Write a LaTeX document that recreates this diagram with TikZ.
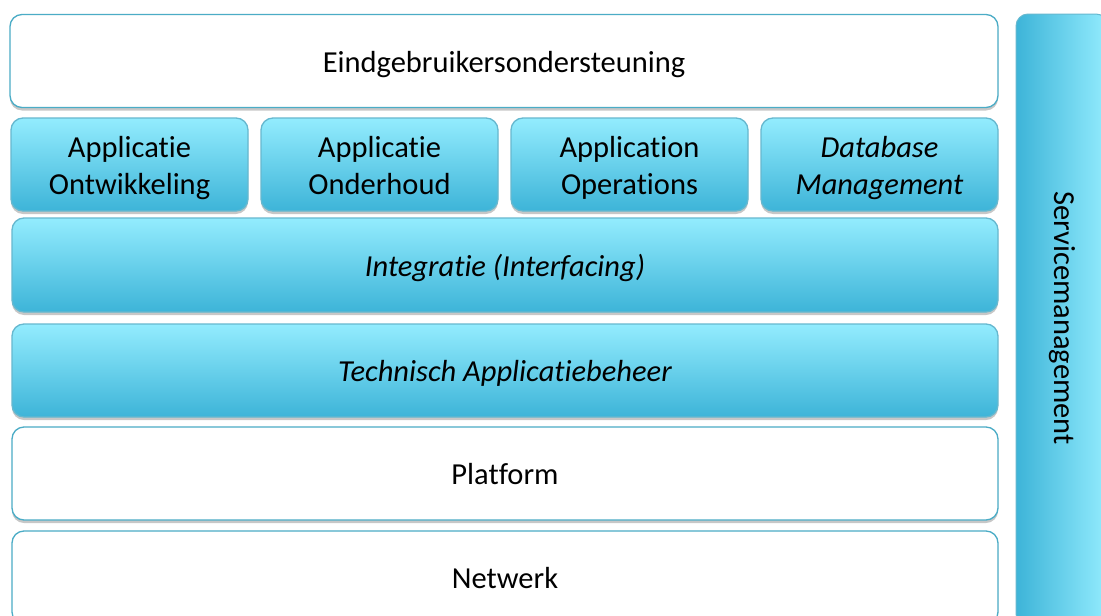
\documentclass[tikz,border=0pt]{standalone}
\usepackage{fontspec}
\setmainfont{Carlito}[Ligatures=NoCommon]
\usetikzlibrary{shadows}
\definecolor{edgeblue}{HTML}{4BACC6}
\definecolor{lightcyan}{HTML}{93ECFE}
\definecolor{darkcyan}{HTML}{3DB4D8}
\newcommand\tstrut{\rule[-7pt]{0pt}{36.5pt}}
\tikzset{
  basebox/.style={rounded corners=12pt, line width=1.3pt, align=center,
    font=\fontsize{30.5}{37}\selectfont, inner sep=0pt,
    drop shadow={shadow xshift=0pt, shadow yshift=-3pt, opacity=0.22, fill=black}},
  whitebox/.style={basebox, draw=edgeblue, fill=white},
  bluebox/.style={basebox, draw=edgeblue!85!white, top color=lightcyan, bottom color=darkcyan},
  sidebar/.style={rounded corners=12pt, draw=edgeblue!85!white, line width=1pt,
    left color=darkcyan, right color=lightcyan},
}
\begin{document}
\begin{tikzpicture}[x=1pt,y=-1pt]
\useasboundingbox (0,0) rectangle (1101,616);
\clip (0,0) rectangle (1101,616);
\fill[white] (0,0) rectangle (1101,616);

\node[whitebox, minimum width=988pt, minimum height=93pt] (eind) at (504,61) {\tstrut Eindgebruikersondersteuning};

\node[bluebox, minimum width=237pt, minimum height=93pt] (ontw) at (129.5,164.5) {\tstrut Applicatie\\\tstrut Ontwikkeling};
\node[bluebox, minimum width=237pt, minimum height=93pt] (onderh) at (379.5,164.5) {\tstrut Applicatie\\\tstrut Onderhoud};
\node[bluebox, minimum width=237pt, minimum height=93pt] (ops) at (629.5,164.5) {\tstrut Application\\\tstrut Operations};
\node[bluebox, minimum width=237pt, minimum height=93pt] (db) at (879.5,164.5) {\itshape\tstrut Database\\\itshape\tstrut Management};

\node[bluebox, minimum width=986pt, minimum height=94pt] (integ) at (505,265) {\itshape\tstrut Integratie (Interfacing)};
\node[bluebox, minimum width=986pt, minimum height=93pt] (tech) at (505,370.5) {\itshape\tstrut Technisch Applicatiebeheer};

\node[whitebox, minimum width=986pt, minimum height=93pt] (plat) at (505,473.5) {\tstrut Platform};
\node[whitebox, minimum width=986pt, minimum height=93pt] (netw) at (505,577.5) {\tstrut Netwerk};

\node[sidebar, minimum width=92pt, minimum height=612pt] (bar) at (1062,320) {};
\node[rotate=-90, font=\fontsize{30.5}{36}\selectfont] (svc) at (1062,318) {Servicemanagement};
\end{tikzpicture}
\end{document}
